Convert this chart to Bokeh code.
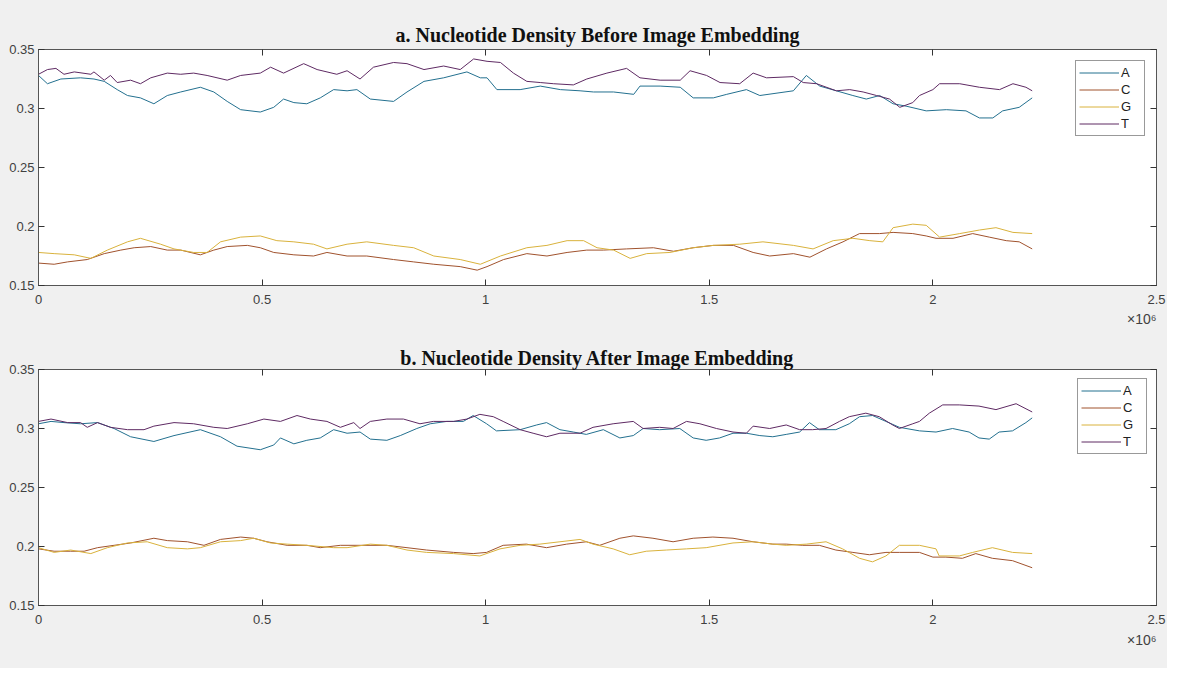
from bokeh.plotting import figure
from bokeh.models import LinearAxis, FixedTicker, Range1d, Title
from bokeh.layouts import column
from bokeh.embed import file_html
from bokeh.resources import INLINE

# ---------------- data ----------------
nucleotides = ["A", "C", "G", "T"]
line_colors = ["#23708f", "#a0522d", "#d9b23c", "#5e2a63"]

x_ticks = [0.0, 0.5, 1.0, 1.5, 2.0, 2.5]
x_tick_labels = ["0", "0.5", "1", "1.5", "2", "2.5"]
y_ticks = [0.15, 0.2, 0.25, 0.3, 0.35]
y_tick_labels = ["0.15", "0.2", "0.25", "0.3", "0.35"]
x_multiplier = "\u00d710\u2076"  # x axis in units of 10^6

titles = ["a. Nucleotide Density Before Image Embedding",
          "b. Nucleotide Density After Image Embedding"]

# Panel a (before)
before_A_pos = [0, 0.020, 0.050, 0.094, 0.124, 0.147, 0.176, 0.199, 0.228, 0.258,
                0.288, 0.318, 0.362, 0.392, 0.422, 0.452, 0.496, 0.526, 0.548, 0.571,
                0.600, 0.630, 0.660, 0.690, 0.712, 0.742, 0.794, 0.824, 0.862, 0.906,
                0.958, 0.988, 1.003, 1.025, 1.077, 1.122, 1.167, 1.211, 1.241, 1.286,
                1.331, 1.345, 1.390, 1.435, 1.464, 1.509, 1.539, 1.583, 1.613, 1.688,
                1.717, 1.747, 1.784, 1.821, 1.851, 1.881, 1.911, 1.940, 1.985, 2.030,
                2.074, 2.104, 2.134, 2.156, 2.193, 2.222]
before_A = [0.328, 0.321, 0.325, 0.326, 0.325, 0.323, 0.316, 0.311, 0.309, 0.304,
            0.311, 0.314, 0.318, 0.314, 0.306, 0.299, 0.297, 0.301, 0.308, 0.305,
            0.304, 0.309, 0.316, 0.315, 0.316, 0.308, 0.306, 0.314, 0.323, 0.326,
            0.331, 0.326, 0.326, 0.316, 0.316, 0.319, 0.316, 0.315, 0.314, 0.314,
            0.312, 0.319, 0.319, 0.318, 0.309, 0.309, 0.312, 0.316, 0.311, 0.315,
            0.328, 0.319, 0.315, 0.311, 0.308, 0.311, 0.304, 0.302, 0.298, 0.299,
            0.298, 0.292, 0.292, 0.298, 0.301, 0.309]

before_T_pos = [0, 0.020, 0.039, 0.057, 0.080, 0.117, 0.124, 0.147, 0.161, 0.176,
                0.206, 0.228, 0.251, 0.288, 0.318, 0.347, 0.377, 0.422, 0.452, 0.496,
                0.519, 0.548, 0.593, 0.623, 0.667, 0.690, 0.719, 0.749, 0.794, 0.824,
                0.862, 0.906, 0.943, 0.973, 1.003, 1.033, 1.062, 1.092, 1.122, 1.152,
                1.196, 1.226, 1.271, 1.315, 1.345, 1.390, 1.435, 1.457, 1.494, 1.524,
                1.568, 1.598, 1.628, 1.688, 1.710, 1.740, 1.784, 1.814, 1.844, 1.874,
                1.903, 1.926, 1.955, 1.970, 2.000, 2.015, 2.060, 2.104, 2.149, 2.179,
                2.208, 2.222]
before_T = [0.329, 0.333, 0.334, 0.329, 0.331, 0.329, 0.331, 0.324, 0.328, 0.322,
            0.324, 0.321, 0.326, 0.330, 0.329, 0.330, 0.328, 0.324, 0.328, 0.330,
            0.335, 0.330, 0.338, 0.333, 0.329, 0.332, 0.325, 0.335, 0.339, 0.338,
            0.333, 0.336, 0.333, 0.342, 0.340, 0.339, 0.330, 0.323, 0.322, 0.321,
            0.320, 0.325, 0.330, 0.334, 0.326, 0.324, 0.324, 0.332, 0.328, 0.322,
            0.321, 0.330, 0.326, 0.327, 0.322, 0.321, 0.315, 0.316, 0.314, 0.311,
            0.308, 0.301, 0.305, 0.311, 0.316, 0.321, 0.321, 0.318, 0.316, 0.321,
            0.318, 0.315]

before_C_pos = [0, 0.035, 0.065, 0.109, 0.147, 0.184, 0.214, 0.251, 0.288, 0.318,
                0.362, 0.392, 0.422, 0.467, 0.496, 0.526, 0.571, 0.615, 0.645, 0.690,
                0.734, 0.794, 0.839, 0.884, 0.943, 0.981, 1.003, 1.040, 1.092, 1.137,
                1.182, 1.226, 1.263, 1.315, 1.375, 1.420, 1.464, 1.509, 1.554, 1.598,
                1.635, 1.688, 1.725, 1.762, 1.799, 1.836, 1.881, 1.911, 1.955, 1.985,
                2.007, 2.045, 2.089, 2.126, 2.164, 2.193, 2.222]
before_C = [0.169, 0.168, 0.170, 0.172, 0.177, 0.180, 0.182, 0.183, 0.180, 0.180,
            0.176, 0.180, 0.183, 0.184, 0.182, 0.178, 0.176, 0.175, 0.178, 0.175,
            0.175, 0.172, 0.170, 0.168, 0.166, 0.163, 0.166, 0.172, 0.177, 0.175,
            0.178, 0.180, 0.180, 0.181, 0.182, 0.179, 0.182, 0.184, 0.184, 0.178,
            0.175, 0.177, 0.174, 0.181, 0.187, 0.194, 0.194, 0.195, 0.194, 0.192,
            0.190, 0.190, 0.194, 0.191, 0.188, 0.187, 0.181]

before_G_pos = [0, 0.035, 0.080, 0.117, 0.154, 0.199, 0.228, 0.273, 0.303, 0.347,
                0.377, 0.407, 0.452, 0.496, 0.533, 0.571, 0.615, 0.645, 0.690, 0.734,
                0.794, 0.839, 0.884, 0.943, 0.988, 1.033, 1.092, 1.137, 1.182, 1.219,
                1.249, 1.286, 1.323, 1.360, 1.412, 1.464, 1.509, 1.568, 1.620, 1.688,
                1.732, 1.777, 1.821, 1.859, 1.888, 1.911, 1.955, 1.985, 2.015, 2.060,
                2.104, 2.141, 2.179, 2.222]
before_G = [0.178, 0.177, 0.176, 0.173, 0.180, 0.187, 0.190, 0.185, 0.181, 0.178,
            0.178, 0.187, 0.191, 0.192, 0.188, 0.187, 0.185, 0.181, 0.185, 0.187,
            0.184, 0.182, 0.175, 0.172, 0.168, 0.175, 0.182, 0.184, 0.188, 0.188,
            0.182, 0.180, 0.173, 0.177, 0.178, 0.182, 0.184, 0.185, 0.187, 0.184,
            0.181, 0.188, 0.190, 0.188, 0.187, 0.199, 0.202, 0.201, 0.191, 0.194,
            0.197, 0.199, 0.195, 0.194]

# Panel b (after)
after_A_pos = [0, 0.028, 0.057, 0.094, 0.132, 0.169, 0.206, 0.258, 0.303, 0.362,
               0.407, 0.444, 0.496, 0.526, 0.541, 0.571, 0.600, 0.630, 0.660, 0.690,
               0.719, 0.742, 0.779, 0.809, 0.846, 0.876, 0.913, 0.950, 0.972, 1.002,
               1.024, 1.077, 1.114, 1.136, 1.166, 1.196, 1.225, 1.263, 1.300, 1.330,
               1.352, 1.389, 1.434, 1.464, 1.493, 1.523, 1.553, 1.583, 1.613, 1.642,
               1.672, 1.702, 1.724, 1.746, 1.783, 1.813, 1.836, 1.865, 1.895, 1.925,
               1.970, 2.007, 2.044, 2.081, 2.103, 2.126, 2.148, 2.178, 2.208, 2.222]
after_A = [0.304, 0.306, 0.305, 0.304, 0.305, 0.300, 0.293, 0.289, 0.294, 0.299,
           0.293, 0.285, 0.282, 0.286, 0.292, 0.287, 0.290, 0.292, 0.299, 0.296,
           0.297, 0.291, 0.290, 0.294, 0.300, 0.304, 0.306, 0.306, 0.311, 0.304,
           0.298, 0.299, 0.303, 0.305, 0.299, 0.297, 0.295, 0.299, 0.292, 0.294,
           0.300, 0.299, 0.300, 0.292, 0.290, 0.292, 0.296, 0.296, 0.294, 0.293,
           0.295, 0.297, 0.305, 0.299, 0.299, 0.304, 0.310, 0.311, 0.306, 0.301,
           0.298, 0.297, 0.300, 0.297, 0.292, 0.291, 0.297, 0.298, 0.305, 0.309]

after_T_pos = [0, 0.028, 0.065, 0.094, 0.109, 0.132, 0.161, 0.199, 0.236, 0.258,
               0.303, 0.347, 0.392, 0.422, 0.467, 0.504, 0.541, 0.578, 0.608, 0.645,
               0.675, 0.705, 0.719, 0.742, 0.779, 0.816, 0.853, 0.883, 0.928, 0.958,
               0.987, 1.017, 1.039, 1.077, 1.106, 1.136, 1.166, 1.211, 1.240, 1.285,
               1.330, 1.352, 1.389, 1.419, 1.449, 1.479, 1.516, 1.553, 1.583, 1.598,
               1.635, 1.672, 1.702, 1.731, 1.761, 1.791, 1.813, 1.850, 1.880, 1.910,
               1.925, 1.955, 1.970, 1.992, 2.022, 2.059, 2.103, 2.141, 2.186, 2.222]
after_T = [0.306, 0.308, 0.305, 0.305, 0.301, 0.305, 0.301, 0.299, 0.299, 0.302,
           0.305, 0.304, 0.301, 0.300, 0.304, 0.308, 0.306, 0.311, 0.308, 0.306,
           0.301, 0.305, 0.300, 0.306, 0.308, 0.308, 0.304, 0.306, 0.306, 0.308,
           0.312, 0.310, 0.306, 0.299, 0.296, 0.293, 0.296, 0.296, 0.301, 0.304,
           0.306, 0.300, 0.301, 0.300, 0.306, 0.304, 0.300, 0.297, 0.296, 0.302,
           0.300, 0.303, 0.299, 0.299, 0.300, 0.306, 0.310, 0.313, 0.310, 0.303,
           0.300, 0.304, 0.306, 0.313, 0.320, 0.320, 0.319, 0.316, 0.321, 0.314]

after_C_pos = [0, 0.035, 0.072, 0.102, 0.132, 0.169, 0.206, 0.258, 0.288, 0.333,
               0.370, 0.407, 0.452, 0.481, 0.511, 0.556, 0.600, 0.630, 0.675, 0.719,
               0.779, 0.824, 0.868, 0.928, 0.972, 1.002, 1.039, 1.091, 1.136, 1.181,
               1.225, 1.255, 1.300, 1.330, 1.374, 1.419, 1.464, 1.508, 1.553, 1.598,
               1.642, 1.672, 1.709, 1.746, 1.783, 1.821, 1.858, 1.895, 1.925, 1.970,
               2.000, 2.029, 2.066, 2.096, 2.133, 2.178, 2.222]
after_C = [0.198, 0.196, 0.196, 0.196, 0.199, 0.201, 0.203, 0.207, 0.205, 0.204,
           0.201, 0.206, 0.208, 0.207, 0.204, 0.201, 0.201, 0.199, 0.201, 0.201,
           0.201, 0.199, 0.197, 0.195, 0.194, 0.195, 0.201, 0.202, 0.199, 0.202,
           0.204, 0.201, 0.207, 0.209, 0.207, 0.204, 0.207, 0.208, 0.207, 0.204,
           0.202, 0.202, 0.201, 0.201, 0.197, 0.195, 0.193, 0.195, 0.195, 0.195,
           0.191, 0.191, 0.190, 0.194, 0.190, 0.188, 0.182]

after_G_pos = [0, 0.035, 0.072, 0.117, 0.154, 0.199, 0.243, 0.288, 0.333, 0.362,
               0.407, 0.452, 0.481, 0.519, 0.556, 0.600, 0.660, 0.690, 0.742, 0.779,
               0.824, 0.868, 0.928, 0.987, 1.032, 1.077, 1.121, 1.166, 1.211, 1.240,
               1.285, 1.322, 1.359, 1.404, 1.449, 1.493, 1.553, 1.598, 1.642, 1.672,
               1.717, 1.761, 1.798, 1.836, 1.865, 1.895, 1.925, 1.970, 2.007, 2.014,
               2.059, 2.089, 2.133, 2.178, 2.222]
after_G = [0.199, 0.195, 0.197, 0.194, 0.199, 0.203, 0.204, 0.199, 0.198, 0.199,
           0.204, 0.205, 0.207, 0.203, 0.202, 0.201, 0.199, 0.199, 0.202, 0.201,
           0.197, 0.195, 0.194, 0.192, 0.198, 0.201, 0.202, 0.204, 0.206, 0.202,
           0.198, 0.193, 0.196, 0.197, 0.198, 0.199, 0.203, 0.204, 0.202, 0.201,
           0.202, 0.204, 0.198, 0.190, 0.187, 0.192, 0.201, 0.201, 0.198, 0.192,
           0.192, 0.195, 0.199, 0.195, 0.194]

panels = [
    [(before_A_pos, before_A), (before_C_pos, before_C), (before_G_pos, before_G), (before_T_pos, before_T)],
    [(after_A_pos, after_A), (after_C_pos, after_C), (after_G_pos, after_G), (after_T_pos, after_T)],
]

# ---------------- styling ----------------
BG = "#f0f0f0"
AXIS = "#555555"
TEXT = "#404040"
SANS = "Liberation Sans"
SERIF = "Liberation Serif"


def make_panel(title, series, height, b_left, b_right, b_top, b_bottom,
               title_standoff, legend_margin, mult_standoff):
    p = figure(width=1167, height=height, output_backend="svg", toolbar_location=None,
               x_range=Range1d(0, 2.5), y_range=Range1d(0.15, 0.35),
               min_border_left=b_left, min_border_right=b_right,
               min_border_top=b_top, min_border_bottom=b_bottom,
               background_fill_color="white", border_fill_color=BG,
               outline_line_color=AXIS, title=title)
    p.title.text_font = SERIF
    p.title.text_font_style = "bold"
    p.title.text_font_size = "20px"
    p.title.text_color = "#111111"
    p.title.align = "center"
    p.title.standoff = title_standoff
    p.grid.visible = False

    xt = FixedTicker(ticks=x_ticks)
    yt = FixedTicker(ticks=y_ticks)
    x_over = {float(k): v for k, v in zip(x_ticks, x_tick_labels)}
    y_over = {float(k): v for k, v in zip(y_ticks, y_tick_labels)}

    for ax in p.xaxis:
        ax.ticker = xt
        ax.major_label_overrides = x_over
    for ax in p.yaxis:
        ax.ticker = yt
        ax.major_label_overrides = y_over

    for ax in list(p.xaxis) + list(p.yaxis):
        ax.axis_line_color = AXIS
        ax.major_tick_line_color = "#333333"
        ax.major_tick_in = 6
        ax.major_tick_out = 0
        ax.minor_tick_line_color = None
        ax.major_label_text_font = SANS
        ax.major_label_text_font_size = "13px"
        ax.major_label_text_color = TEXT
    p.xaxis.major_label_standoff = 9
    p.yaxis.major_label_standoff = 4

    # inward ticks on the top and right edges (no labels)
    blank_x = {float(k): "" for k in x_ticks}
    blank_y = {float(k): "" for k in y_ticks}
    top_ax = LinearAxis(ticker=xt, major_tick_in=6, major_tick_out=0,
                        minor_tick_line_color=None, axis_line_color=AXIS,
                        major_tick_line_color="#333333",
                        major_label_overrides=blank_x, major_label_standoff=0,
                        major_label_text_font_size="1px")
    right_ax = LinearAxis(ticker=yt, major_tick_in=6, major_tick_out=0,
                          minor_tick_line_color=None, axis_line_color=AXIS,
                          major_tick_line_color="#333333",
                          major_label_overrides=blank_y, major_label_standoff=0,
                          major_label_text_font_size="1px")
    p.add_layout(top_ax, "above")
    p.add_layout(right_ax, "right")

    for name, color, (xs, ys) in zip(nucleotides, line_colors, series):
        p.line(xs, ys, line_color=color, line_width=1, legend_label=name)

    leg = p.legend[0]
    leg.location = "top_right"
    leg.border_line_color = "#333333"
    leg.border_line_width = 1
    leg.background_fill_color = "white"
    leg.background_fill_alpha = 1
    leg.padding = 3
    leg.spacing = 0
    leg.glyph_width = 40
    leg.glyph_height = 17
    leg.label_height = 17
    leg.label_standoff = 2
    leg.label_text_font = SANS
    leg.label_text_font_size = "13px"
    leg.label_text_color = "#222222"
    leg.margin = legend_margin

    mult = Title(text=x_multiplier, align="right", text_font=SANS,
                 text_font_size="14px", text_font_style="normal",
                 text_color=TEXT, standoff=mult_standoff)
    p.add_layout(mult, "below")
    return p


p1 = make_panel(titles[0], panels[0], 332, 36, 11, 49, 47, 8, 11, 4)
p2 = make_panel(titles[1], panels[1], 336, 38, 9, 37, 63, 2, 9, 7)

layout = column(p1, p2, spacing=0, styles={"background-color": BG})
open("out.html", "w").write(file_html(layout, INLINE))
